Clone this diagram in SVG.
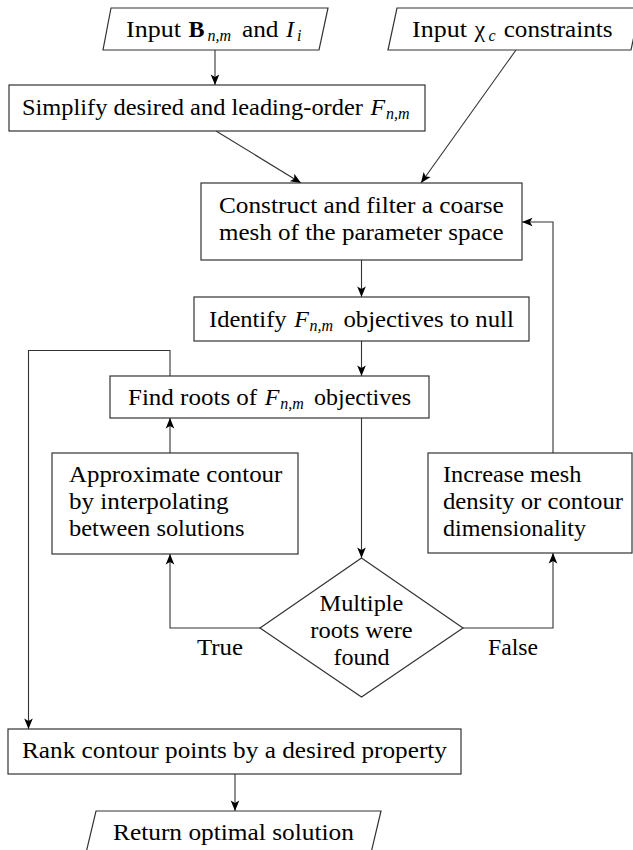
<svg xmlns="http://www.w3.org/2000/svg" width="633" height="850" viewBox="0 0 633 850">
<defs>
<marker id="arrow" viewBox="-12 -6 12 12" refX="0" refY="0" markerWidth="12" markerHeight="12" markerUnits="userSpaceOnUse" orient="auto"><path d="M0,0 L-10.5,-4.3 L-8,0 L-10.5,4.3 Z" fill="#000"/></marker>
<style>
.box{fill:#fff;stroke:#333;stroke-width:1.2}
.t{font-family:'Liberation Serif','Times New Roman',Tinos,'DejaVu Serif','Noto Serif',serif;font-size:24px;fill:#000}
.sub{font-size:16px;font-style:italic}
.mi{font-style:italic}
.ln{fill:none;stroke:#333;stroke-width:1.1;marker-end:url(#arrow)}
</style>
</defs>
<rect width="633" height="850" fill="#fff"/>

<g id="connectors">
<path class="ln" d="M215,50 V85"/>
<path class="ln" d="M216,131 L301,183"/>
<path class="ln" d="M516,50 L421,183"/>
<path class="ln" d="M361.5,260 V297"/>
<path class="ln" d="M361.5,341 V376"/>
<path class="ln" d="M361.5,418 V558"/>
<path class="ln" d="M260,628 H170 V554"/>
<path class="ln" d="M463,628 H553 V553"/>
<path class="ln" d="M553,453 V222 H522"/>
<path class="ln" d="M170,453 V418"/>
<path class="ln" d="M170,376 V350.5 H28.5 V729"/>
<path class="ln" d="M235,774 V811"/>
<text class="t" y="655"><tspan x="197" textLength="46" lengthAdjust="spacingAndGlyphs">True</tspan></text>
<text class="t" y="655"><tspan x="488" textLength="50" lengthAdjust="spacingAndGlyphs">False</tspan></text>
</g>

<g id="n-input-b">
<polygon class="box" points="111,8 328,8 319,50 103,50"/>
<text class="t" y="37"><tspan x="126" textLength="54.9" lengthAdjust="spacingAndGlyphs">Input</tspan><tspan x="188.5" font-weight="bold">B</tspan><tspan x="207.5" dy="4" class="sub">n,m</tspan><tspan x="241.9" dy="-4" textLength="36.6" lengthAdjust="spacingAndGlyphs">and</tspan><tspan x="286.1" class="mi">I</tspan><tspan x="297" dy="4" class="sub">i</tspan></text>
</g>

<g id="n-input-chi">
<polygon class="box" points="397,8 640,8 631,50 388,50"/>
<text class="t" y="37"><tspan x="412" textLength="54.9" lengthAdjust="spacingAndGlyphs">Input</tspan><tspan x="474.5">χ</tspan><tspan x="488.5" dy="4" class="sub">c</tspan><tspan x="503.7" dy="-4" textLength="108.8" lengthAdjust="spacingAndGlyphs">constraints</tspan></text>
</g>

<g id="n-simplify">
<rect class="box" x="9" y="85" width="416" height="46"/>
<text class="t" y="115"><tspan x="22" textLength="340.9" lengthAdjust="spacingAndGlyphs">Simplify desired and leading-order</tspan><tspan x="370.5" class="mi">F</tspan><tspan x="386" dy="4" class="sub">n,m</tspan></text>
</g>

<g id="n-construct">
<rect class="box" x="201" y="183" width="321" height="77"/>
<text class="t"><tspan x="219" y="213" textLength="284.8" lengthAdjust="spacingAndGlyphs">Construct and filter a coarse</tspan><tspan x="219" y="240" textLength="284.7" lengthAdjust="spacingAndGlyphs">mesh of the parameter space</tspan></text>
</g>

<g id="n-identify">
<rect class="box" x="194" y="297" width="335" height="44"/>
<text class="t" y="327"><tspan x="209" textLength="77.6" lengthAdjust="spacingAndGlyphs">Identify</tspan><tspan x="294.2" class="mi">F</tspan><tspan x="309.5" dy="4" class="sub">n,m</tspan><tspan x="343.4" dy="-4" textLength="170.4" lengthAdjust="spacingAndGlyphs">objectives to null</tspan></text>
</g>

<g id="n-findroots">
<rect class="box" x="110" y="376" width="319" height="42"/>
<text class="t" y="405"><tspan x="128" textLength="129.2" lengthAdjust="spacingAndGlyphs">Find roots of</tspan><tspan x="264.8" class="mi">F</tspan><tspan x="280.2" dy="4" class="sub">n,m</tspan><tspan x="314" dy="-4" textLength="97.2" lengthAdjust="spacingAndGlyphs">objectives</tspan></text>
</g>

<g id="n-approx">
<rect class="box" x="52" y="453" width="246" height="101"/>
<text class="t"><tspan x="69" y="482" textLength="213.3" lengthAdjust="spacingAndGlyphs">Approximate contour</tspan><tspan x="69" y="509" textLength="159.6" lengthAdjust="spacingAndGlyphs">by interpolating</tspan><tspan x="69" y="536" textLength="175.5" lengthAdjust="spacingAndGlyphs">between solutions</tspan></text>
</g>

<g id="n-increase">
<rect class="box" x="428" y="453" width="204" height="100"/>
<text class="t"><tspan x="443" y="482" textLength="138.4" lengthAdjust="spacingAndGlyphs">Increase mesh</tspan><tspan x="443" y="509" textLength="180" lengthAdjust="spacingAndGlyphs">density or contour</tspan><tspan x="443" y="536" textLength="143" lengthAdjust="spacingAndGlyphs">dimensionality</tspan></text>
</g>

<g id="n-decision">
<polygon class="box" points="361.5,558 463,628 361.5,697 260,628"/>
<text class="t"><tspan x="319.5" y="611" textLength="83.9" lengthAdjust="spacingAndGlyphs">Multiple</tspan><tspan x="310.3" y="638" textLength="102.4" lengthAdjust="spacingAndGlyphs">roots were</tspan><tspan x="333.4" y="665" textLength="56.2" lengthAdjust="spacingAndGlyphs">found</tspan></text>
</g>

<g id="n-rank">
<rect class="box" x="8" y="729" width="453" height="45"/>
<text class="t" y="758"><tspan x="22" textLength="425" lengthAdjust="spacingAndGlyphs">Rank contour points by a desired property</tspan></text>
</g>

<g id="n-return">
<polygon class="box" points="96,811 381,811 371,853 86,853"/>
<text class="t" y="840"><tspan x="113" textLength="241" lengthAdjust="spacingAndGlyphs">Return optimal solution</tspan></text>
</g>
</svg>
